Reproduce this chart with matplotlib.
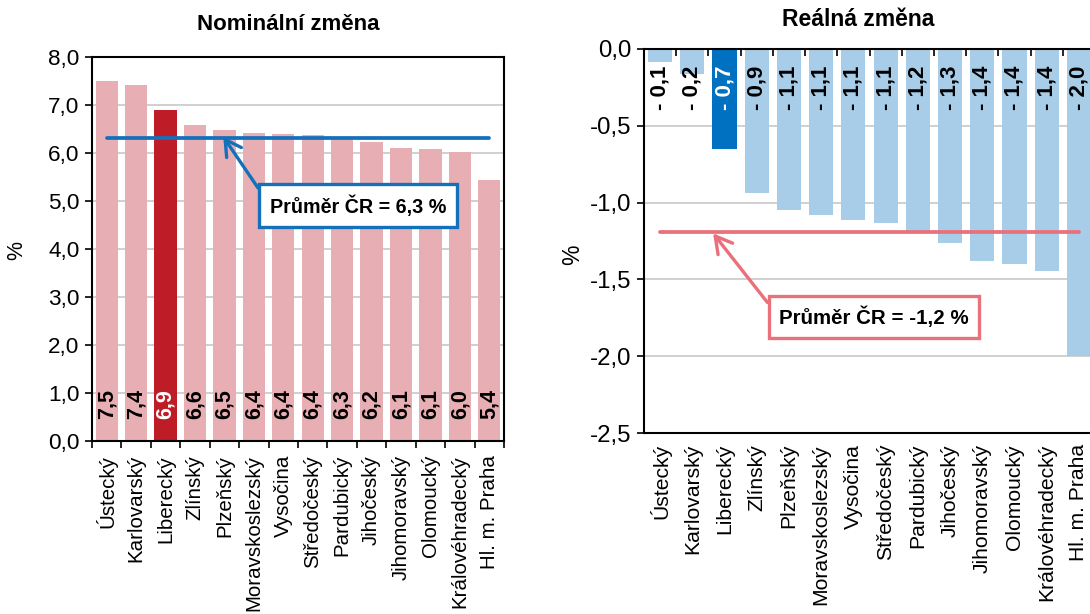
import matplotlib.pyplot as plt
from matplotlib.ticker import FixedLocator, FuncFormatter

plt.rcParams['font.family'] = ['Liberation Sans', 'DejaVu Sans']

regions = ["Ústecký", "Karlovarský", "Liberecký", "Zlínský", "Plzeňský",
           "Moravskoslezský", "Vysočina", "Středočeský", "Pardubický",
           "Jihočeský", "Jihomoravský", "Olomoucký", "Královéhradecký",
           "Hl. m. Praha"]
nominal = [7.50, 7.42, 6.89, 6.58, 6.47, 6.42, 6.40, 6.38, 6.31, 6.23,
           6.11, 6.08, 6.03, 5.44]
nominal_labels = ["7,5", "7,4", "6,9", "6,6", "6,5", "6,4", "6,4", "6,4",
                  "6,3", "6,2", "6,1", "6,1", "6,0", "5,4"]
real = [-0.085, -0.16, -0.653, -0.94, -1.05, -1.08, -1.115, -1.13, -1.20,
        -1.265, -1.378, -1.40, -1.447, -2.00]
real_labels = ["- 0,1", "- 0,2", "- 0,7", "- 0,9", "- 1,1", "- 1,1", "- 1,1",
               "- 1,1", "- 1,2", "- 1,3", "- 1,4", "- 1,4", "- 1,4", "- 2,0"]
nominal_mean = 6.32
real_mean = -1.19
highlight = "Liberecký"

pink, red = "#E7AFB4", "#BE1C26"
lblue, dblue = "#A8CDE8", "#0070C0"
blue_line, red_line = "#1570BA", "#E8717B"
grid_c = "#C8C8C8"

fig = plt.figure(figsize=(10.9, 6.14), dpi=100)
x = list(range(len(regions)))


def fmt(v, pos):
    return f"{v:.1f}".replace(".", ",")


# ---- nominal ----
ax1 = fig.add_axes([92 / 1090, 1 - 441 / 614, 412 / 1090, 384 / 614])
cols = [red if r == highlight else pink for r in regions]
ax1.bar(x, nominal, width=0.76, color=cols, zorder=2)
ax1.set_xlim(-0.5, len(regions) - 0.5)
ax1.set_ylim(0, 8)
ax1.set_yticks([i for i in range(9)])
ax1.yaxis.set_major_formatter(FuncFormatter(fmt))
ax1.yaxis.grid(True, color=grid_c, lw=1.2, zorder=0)
ax1.set_xticks(x)
ax1.set_xticklabels(regions, rotation=90, fontsize=14.8)
ax1.xaxis.set_minor_locator(FixedLocator([i + 0.5 for i in range(-1, len(regions))]))
ax1.tick_params(axis='x', which='major', length=0, pad=10)
ax1.tick_params(axis='x', which='minor', length=5, width=1.2, direction='out')
ax1.tick_params(axis='y', labelsize=16.2, length=5, width=1.2, pad=4)
for s in ax1.spines.values():
    s.set_linewidth(1.5)
ax1.plot([0, len(regions) - 1], [nominal_mean, nominal_mean], color=blue_line,
         lw=2.7, zorder=3, solid_capstyle='round')
for i, (v, t) in enumerate(zip(nominal, nominal_labels)):
    ax1.annotate(t, (i, 0), xytext=(0, 15.5), textcoords='offset points',
                 rotation=90, ha='center', va='bottom', fontsize=15.5,
                 fontweight='bold',
                 color='white' if regions[i] == highlight else 'black', zorder=5)
ax1.annotate("Průměr ČR = 6,3 %", xy=(3.96, 6.34), xytext=(8.55, 4.9),
             ha='center', va='center', fontsize=14.2, fontweight='bold', zorder=6,
             bbox=dict(boxstyle='square,pad=0.55', fc='white', ec=blue_line, lw=2.4),
             arrowprops=dict(arrowstyle='->,head_length=0.8,head_width=0.45',
                             color=blue_line, lw=2.4, relpos=(0, 0.5),
                             shrinkA=0, shrinkB=0))
fig.text(288 / 1090, 1 - 24 / 614, "Nominální změna", ha='center', va='center',
         fontsize=16, fontweight='bold')
fig.text(17 / 1090, 1 - 250 / 614, "%", rotation=90, ha='center', va='center',
         fontsize=15.5)

# ---- real ----
ax2 = fig.add_axes([644 / 1090, 1 - 433 / 614, 451 / 1090, 384 / 614])
cols = [dblue if r == highlight else lblue for r in regions]
ax2.bar(x, real, width=0.75, color=cols, zorder=2)
ax2.set_xlim(-0.5, len(regions) - 0.5)
ax2.set_ylim(-2.5, 0)
ax2.set_yticks([-2.5, -2.0, -1.5, -1.0, -0.5, 0.0])
ax2.yaxis.set_major_formatter(FuncFormatter(fmt))
ax2.yaxis.grid(True, color=grid_c, lw=1.2, zorder=0)
ax2.set_xticks(x)
ax2.set_xticklabels(regions, rotation=90, fontsize=15.2)
ax2.xaxis.set_minor_locator(FixedLocator([i + 0.5 for i in range(-1, len(regions))]))
ax2.tick_params(axis='x', which='major', length=0, pad=8)
ax2.tick_params(axis='x', which='minor', top=True, bottom=False, length=5,
                width=1.2, direction='in')
ax2.tick_params(axis='y', labelsize=17.3, length=5, width=1.2, pad=4)
for s in ax2.spines.values():
    s.set_linewidth(1.5)
ax2.plot([0, len(regions) - 1], [real_mean, real_mean], color=red_line,
         lw=2.7, zorder=3, solid_capstyle='round')
for i, t in enumerate(real_labels):
    ax2.annotate(t, (i, 0), xytext=(0, -12), textcoords='offset points',
                 rotation=90, ha='center', va='top', fontsize=16,
                 fontweight='bold',
                 color='white' if regions[i] == highlight else 'black', zorder=5)
ax2.annotate("Průměr ČR = -1,2 %", xy=(1.645, -1.2), xytext=(6.63, -1.745),
             ha='center', va='center', fontsize=14.8, fontweight='bold', zorder=6,
             bbox=dict(boxstyle='square,pad=0.5', fc='white', ec=red_line, lw=2.4),
             arrowprops=dict(arrowstyle='->,head_length=0.8,head_width=0.45',
                             color=red_line, lw=2.4, relpos=(0, 0.5),
                             shrinkA=0, shrinkB=0))
fig.text(858 / 1090, 1 - 20 / 614, "Reálná změna", ha='center', va='center',
         fontsize=16.5, fontweight='bold')
fig.text(573 / 1090, 1 - 255 / 614, "%", rotation=90, ha='center', va='center',
         fontsize=16.5)

fig.savefig("out.png", dpi=100)
